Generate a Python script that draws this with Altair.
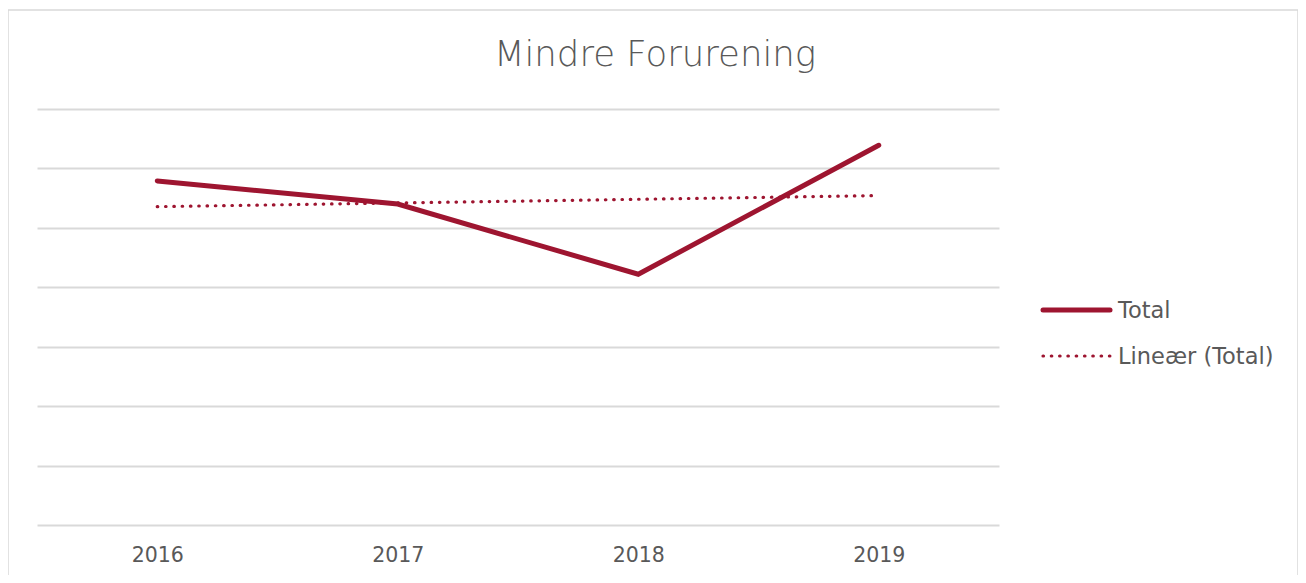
import altair as alt
import pandas as pd

years = ["2016", "2017", "2018", "2019"]
totals = [5.79, 5.40, 4.22, 6.39]
title_text = "Mindre Forurening"
legend_labels = ["Total", "Lineær (Total)"]

COLOR = "#9E1530"
GRID = "#D9D9D9"
TEXT = "#595959"
FONT = "DejaVu Sans"

df = pd.DataFrame({"year": years, "yr": [int(y) for y in years], "value": totals})

W, H = 962, 416

x_scale = alt.Scale(type="point", domain=years, padding=0.5)
x_axis = alt.Axis(title=None, labelAngle=0, domain=False, ticks=False, tickSize=0,
                  labelPadding=20, labelFontSize=20.5, labelColor=TEXT, labelFont=FONT,
                  grid=False)
y_scale = alt.Scale(domain=[0, 7], nice=False, zero=True)
y_axis = alt.Axis(title=None, labels=False, ticks=False, domain=False, grid=True,
                  values=list(range(0, 8)), gridColor=GRID, gridWidth=2)

base = alt.Chart(df)

total_line = base.mark_line(color=COLOR, strokeWidth=5, strokeCap="round").encode(
    x=alt.X("year:O", scale=x_scale, axis=x_axis),
    y=alt.Y("value:Q", scale=y_scale, axis=y_axis),
)

trend = base.transform_regression("yr", "value", method="linear").transform_calculate(
    year="toString(datum.yr)"
).mark_line(color=COLOR, strokeWidth=3.2, strokeDash=[0.5, 7.8], strokeCap="round").encode(
    x=alt.X("year:O", scale=x_scale, axis=x_axis),
    y=alt.Y("value:Q", scale=y_scale, axis=y_axis),
)

title = alt.Chart(pd.DataFrame({"t": [title_text]})).mark_text(
    fontSize=35.5, font=FONT, fontWeight=300, color=TEXT, align="center", baseline="alphabetic"
).encode(text="t:N", x=alt.value(618), y=alt.value(-43))

leg = pd.DataFrame({"label": legend_labels})
leg_total_rule = alt.Chart(leg).transform_filter(alt.datum.label == legend_labels[0]).mark_rule(
    color=COLOR, strokeWidth=5, strokeCap="round"
).encode(x=alt.value(1006), x2=alt.value(1073), y=alt.value(201))
leg_trend_rule = alt.Chart(leg).transform_filter(alt.datum.label == legend_labels[1]).mark_rule(
    color=COLOR, strokeWidth=3.2, strokeDash=[0.5, 7.8], strokeCap="round"
).encode(x=alt.value(1006), x2=alt.value(1074), y=alt.value(247))
leg_total_text = alt.Chart(leg).transform_filter(alt.datum.label == legend_labels[0]).mark_text(
    fontSize=22.5, font=FONT, color=TEXT, align="left", baseline="middle"
).encode(text="label:N", x=alt.value(1081), y=alt.value(202))
leg_trend_text = alt.Chart(leg).transform_filter(alt.datum.label == legend_labels[1]).mark_text(
    fontSize=22.5, font=FONT, color=TEXT, align="left", baseline="middle"
).encode(text="label:N", x=alt.value(1081), y=alt.value(248))

border = alt.Chart(leg).transform_filter(alt.datum.label == legend_labels[0]).mark_rect(
    fill=None, stroke=GRID, strokeWidth=1.5
).encode(x=alt.value(-29), x2=alt.value(1261), y=alt.value(-99), y2=alt.value(520))

chart = alt.layer(
    border, total_line, trend, title,
    leg_total_rule, leg_trend_rule, leg_total_text, leg_trend_text
).properties(
    width=W, height=H,
    autosize=alt.AutoSizeParams(type="none"),
    padding={"left": 29, "top": 101, "right": 299, "bottom": 50},
    view=alt.ViewBackground(stroke=None, strokeWidth=0),
).configure_view(strokeWidth=0).configure(background="white")

chart.save("out.html", embed_options={"renderer": "svg", "actions": False})
